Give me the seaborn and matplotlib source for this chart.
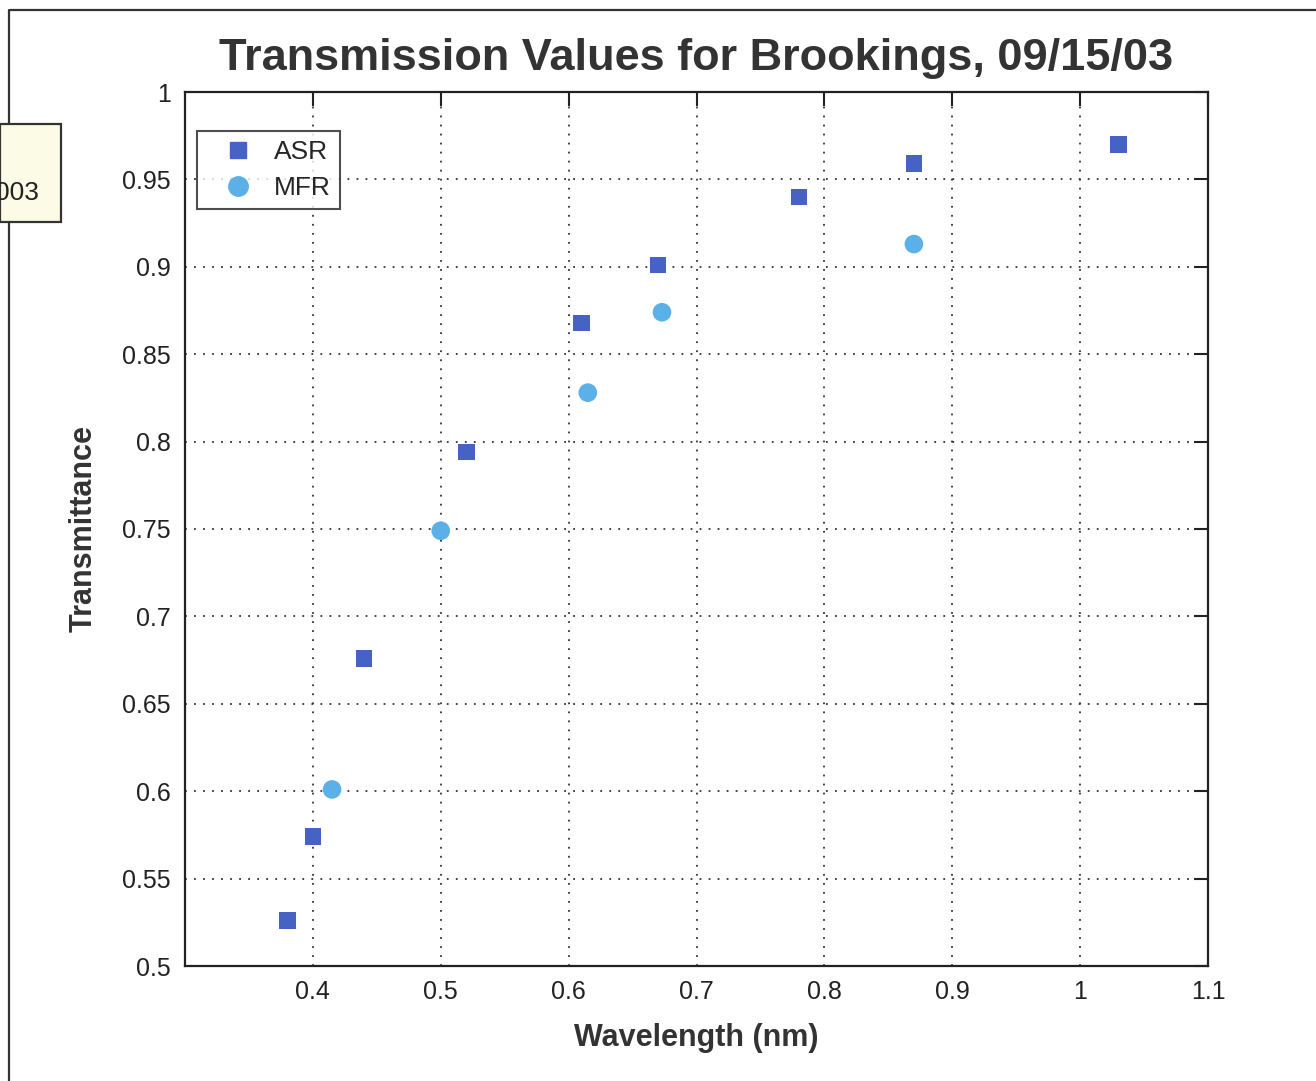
import matplotlib
matplotlib.use("Agg")
import matplotlib.pyplot as plt
import seaborn as sns
import pandas as pd
from matplotlib.patches import Rectangle
from matplotlib.lines import Line2D

asr_wavelength = [0.38, 0.40, 0.44, 0.52, 0.61, 0.67, 0.78, 0.87, 1.03]
asr_transmittance = [0.526, 0.574, 0.676, 0.794, 0.868, 0.901, 0.940, 0.959, 0.970]
mfr_wavelength = [0.415, 0.500, 0.615, 0.673, 0.870]
mfr_transmittance = [0.601, 0.749, 0.828, 0.874, 0.913]
x_ticks = [0.4, 0.5, 0.6, 0.7, 0.8, 0.9, 1.0, 1.1]
x_tick_labels = ["0.4", "0.5", "0.6", "0.7", "0.8", "0.9", "1", "1.1"]
y_ticks = [0.5, 0.55, 0.6, 0.65, 0.7, 0.75, 0.8, 0.85, 0.9, 0.95, 1.0]
y_tick_labels = ["0.5", "0.55", "0.6", "0.65", "0.7", "0.75", "0.8", "0.85", "0.9", "0.95", "1"]

df = pd.DataFrame({
    "Wavelength": asr_wavelength + mfr_wavelength,
    "Transmittance": asr_transmittance + mfr_transmittance,
    "Instrument": ["ASR"] * len(asr_wavelength) + ["MFR"] * len(mfr_wavelength),
})

sns.set_style("white")
plt.rcParams['font.family'] = ['Liberation Sans', 'DejaVu Sans']

fig = plt.figure(figsize=(13.16, 10.81), dpi=100)
ax = fig.add_axes([185/1316, 1 - 966/1081, 1023/1316, 874/1081])

palette = {"ASR": "#4662c4", "MFR": "#5cb0e8"}
markers = {"ASR": "s", "MFR": "o"}
for inst, size in [("ASR", 140), ("MFR", 180)]:
    sub = df[df["Instrument"] == inst]
    sns.scatterplot(data=sub, x="Wavelength", y="Transmittance", ax=ax,
                    color=palette[inst], marker=markers[inst], s=size,
                    edgecolor="none", linewidth=0, zorder=3, legend=False)

ax.set_xlim(0.3, 1.1)
ax.set_ylim(0.5, 1.0)
ax.set_xticks(x_ticks)
ax.set_xticklabels(x_tick_labels)
ax.set_yticks(y_ticks)
ax.set_yticklabels(y_tick_labels)
ax.tick_params(direction="in", length=10, width=1.5, labelsize=18, colors="#222222",
               top=True, right=True, pad=10)
ax.grid(True, linestyle=(0, (1, 4)), color="#333333", linewidth=1.3)
for sp in ax.spines.values():
    sp.set_color("#222222")
    sp.set_linewidth(1.6)

ax.set_xlabel("Wavelength (nm)", fontsize=22, fontweight="bold", color="#333333", labelpad=14)
ax.set_ylabel("Transmittance", fontsize=22, fontweight="bold", color="#333333", labelpad=17)
ax.set_title("Transmission Values for Brookings, 09/15/03", fontsize=32.5, fontweight="bold",
             color="#333333", pad=16)

handles = [
    Line2D([], [], linestyle="none", marker="s", markersize=12, color=palette["ASR"]),
    Line2D([], [], linestyle="none", marker="o", markersize=14, color=palette["MFR"]),
]
leg = ax.legend(handles, ["ASR", "MFR"], loc="upper left", bbox_to_anchor=(0.012, 0.955),
                fontsize=19, frameon=True, fancybox=False, edgecolor="#222222",
                handlelength=2.45, handletextpad=0.15, borderpad=0.32, labelspacing=0.48,
                borderaxespad=0)
leg.get_frame().set_linewidth(1.5)

# scanned-page frame and note box
fig.add_artist(Line2D([10/1316, 1.0], [1 - 10/1081, 1 - 10/1081], color="#333333", linewidth=1.6))
fig.add_artist(Line2D([9/1316, 9/1316], [0, 1 - 10/1081], color="#333333", linewidth=1.6))
fig.add_artist(Rectangle((0, 1 - 222/1081), 61/1316, 98/1081, transform=fig.transFigure,
                         facecolor="#fbfbe6", edgecolor="#333333", linewidth=1.6, zorder=5))
fig.text(39/1316, 1 - 193/1081, "003", fontsize=19, color="#222222", ha="right", va="center", zorder=6)

fig.savefig("out.png", dpi=100)
